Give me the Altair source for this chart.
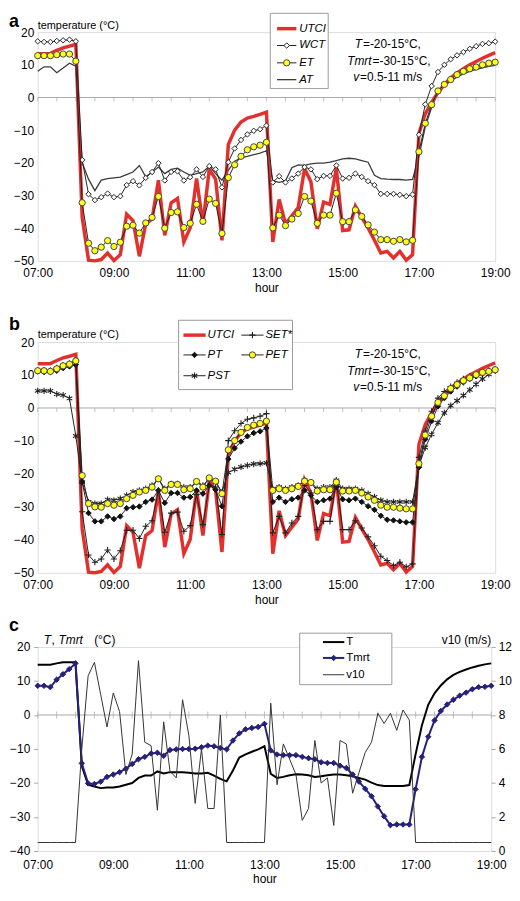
import altair as alt
import pandas as pd

# ---------------- data (10-minute steps, 07:00 .. 19:00) ----------------
STEP_MIN = 10
N = 73
HOURS = [7 + i * STEP_MIN / 60 for i in range(N)]
TICK_HOURS = [7 + k * 0.5 for k in range(25)]

UTCI = [13.4, 13.4, 13.5, 14.4, 15.2, 15.7, 16.3,
        -36.7, -49.8, -50.0, -49.6, -47.6, -49.9, -48.1, -35.7, -37.7, -48.6, -38.7, -37.2, -25.3, -42.2, -32.2,
        -30.9, -44.2, -39.9, -24.8, -38.7, -22.0, -25.0, -43.7,
        -14.4, -10.0, -7.5, -6.3, -5.8, -5.2, -4.5,
        -44.2, -31.2, -38.7, -36.2, -33.7, -21.8, -25.8, -40.2, -32.0, -32.7, -21.6, -40.7, -40.5, -33.2, -36.7,
        -39.9, -43.7, -47.6, -47.1, -49.1, -47.1, -49.8, -48.1,
        -11.0, -5.0, -1.5, 1.5, 4.0, 6.0, 7.5, 8.8, 10.0, 11.0, 12.0, 12.9, 13.7]
WCT = [17.2, 17.0, 17.0, 17.3, 17.5, 17.7, 17.2,
       -19.1, -29.6, -31.4, -30.5, -29.4, -30.5, -30.2, -26.8, -25.6, -26.9, -24.6, -22.8, -20.1, -25.4, -22.8,
       -22.6, -25.4, -24.4, -22.0, -24.3, -21.0, -22.0, -27.5,
       -19.8, -15.6, -13.0, -11.3, -10.2, -9.7, -8.6,
       -26.0, -24.1, -26.0, -24.8, -23.3, -21.3, -22.0, -25.0, -24.0, -24.0, -20.8, -24.8, -24.6, -23.3, -24.3,
       -25.6, -26.8, -29.5, -29.5, -29.5, -29.8, -30.2, -29.7,
       -11.4, -2.1, 3.5, 7.8, 10.0, 11.7, 12.9, 13.9, 14.9, 15.7, 16.4, 16.6, 17.1]
ET = [12.8, 12.8, 12.8, 13.1, 13.3, 13.3, 11.1,
      -32.2, -44.6, -46.9, -45.8, -43.8, -45.6, -44.3, -39.4, -39.1, -41.5, -38.4, -36.7, -30.3, -40.0, -35.2,
      -35.0, -39.8, -38.5, -32.7, -37.9, -31.1, -32.4, -41.6,
      -24.5, -20.6, -18.0, -16.0, -15.1, -14.6, -13.7,
      -39.9, -36.0, -39.2, -37.2, -35.5, -30.3, -31.7, -38.5, -36.0, -36.0, -29.3, -38.0, -38.0, -34.4, -36.4,
      -39.0, -41.2, -43.5, -43.5, -44.0, -43.5, -44.2, -43.7,
      -16.6, -7.9, -2.2, 2.0, 4.0, 5.5, 7.0, 8.0, 8.8, 9.3, 10.0, 10.5, 10.8]
AT = [8.0, 9.4, 9.4, 7.6, 9.0, 10.5, 9.6,
      -20.0, -25.0, -28.5, -25.3, -24.8, -24.6, -24.4, -23.6, -22.8, -20.8, -24.3, -22.8, -21.3, -23.3, -22.0,
      -21.6, -22.8, -23.8, -23.3, -22.8, -21.0, -23.3, -25.3,
      -22.3, -19.5, -18.5, -18.0, -17.5, -17.0, -16.3,
      -25.5, -26.0, -25.5, -21.5, -20.6, -20.8, -20.3, -20.1, -20.1, -19.8, -19.3, -18.8, -18.6, -18.8, -19.3,
      -19.8, -23.8, -24.8, -25.0, -25.1, -25.1, -25.3, -25.1,
      -18.0, -9.0, -3.0, 1.5, 3.5, 5.0, 6.3, 7.2, 8.0, 8.6, 9.1, 9.5, 9.8]

PET = [11.3, 11.3, 11.1, 11.9, 12.8, 13.3, 14.3,
       -20.5, -29.0, -30.0, -30.1, -29.0, -29.5, -29.0, -27.5, -26.5, -25.5, -25.0, -24.0, -21.5, -25.0, -23.2,
       -23.2, -24.8, -24.5, -22.3, -24.0, -21.2, -22.2, -26.0,
       -12.7, -9.9, -7.4, -5.9, -5.2, -4.7, -4.0,
       -25.0, -24.5, -25.0, -24.5, -23.8, -22.2, -22.6, -25.2, -24.8, -24.8, -22.5, -25.2, -25.2, -25.0, -25.8,
       -27.0, -28.0, -29.5, -30.1, -30.1, -30.4, -30.6, -30.6,
       -16.9, -8.2, -2.5, 1.7, 3.7, 5.9, 7.1, 8.3, 9.1, 10.1, 10.8, 11.1, 11.6]
PT = [11.1, 10.9, 10.9, 11.3, 12.1, 12.6, 13.1,
      -22.5, -31.9, -34.4, -34.4, -32.9, -33.7, -32.9, -30.4, -30.1, -29.9, -28.5, -27.8, -25.0, -28.8, -25.8,
      -25.8, -27.2, -27.0, -25.0, -26.0, -23.5, -24.8, -29.8,
      -15.5, -12.2, -10.2, -8.6, -7.6, -7.1, -6.1,
      -28.5, -27.2, -28.5, -27.7, -27.2, -25.0, -26.5, -28.5, -28.0, -27.5, -24.0, -27.7, -28.0, -27.5, -28.5,
      -29.8, -30.9, -32.7, -33.9, -34.1, -34.4, -34.7, -34.7,
      -18.0, -9.5, -4.0, 0.5, 3.0, 5.0, 6.5, 7.8, 8.8, 9.6, 10.3, 10.8, 11.3]
SET = [11.5, 11.5, 11.3, 12.2, 13.0, 13.5, 14.5,
       -31.5, -44.6, -46.8, -45.8, -43.1, -45.8, -43.3, -37.1, -37.1, -39.6, -35.9, -34.2, -25.0, -37.7, -31.9,
       -31.6, -37.4, -35.7, -26.3, -35.4, -23.5, -24.0, -38.4,
       -9.9, -6.9, -4.7, -3.4, -3.0, -2.5, -1.7,
       -37.9, -32.9, -37.9, -34.9, -32.9, -23.5, -25.8, -36.9, -34.4, -34.4, -22.0, -36.9, -36.9, -34.2, -36.4,
       -39.1, -41.8, -45.0, -46.3, -47.8, -46.8, -48.2, -47.3,
       -15.0, -7.0, -1.0, 3.0, 5.0, 6.5, 7.8, 8.8, 9.6, 10.3, 10.9, 11.4, 11.8]
PST = [5.2, 5.2, 5.2, 4.2, 3.9, 2.9, -8.5,
       -22.5, -28.5, -29.0, -29.0, -27.8, -28.0, -27.5, -26.5, -25.5, -25.0, -24.5, -23.5, -21.5, -24.5, -23.0,
       -23.0, -24.0, -24.0, -22.5, -23.5, -21.5, -22.5, -25.5,
       -19.6, -18.6, -17.9, -17.4, -17.0, -16.9, -16.7,
       -24.5, -24.0, -24.5, -24.0, -23.5, -22.0, -22.5, -24.5, -24.0, -24.0, -22.0, -24.5, -24.5, -24.5, -25.0,
       -26.0, -27.0, -28.0, -28.5, -28.5, -28.5, -28.5, -28.5,
       -17.5, -12.0, -8.0, -4.5, -1.5, 0.7, 2.2, 3.8, 5.5, 7.2, 8.8, 10.2, 11.5]

T = [14.8, 14.8, 14.8, 15.2, 15.5, 15.5, 15.5,
     -15.0, -20.5, -21.0, -21.5, -21.3, -21.3, -21.0, -20.5, -20.0, -18.5, -17.8, -17.8, -16.6, -17.2, -16.8,
     -16.8, -16.8, -17.0, -17.2, -17.2, -17.0, -17.8, -18.8,
     -19.5, -16.3, -12.5, -11.6, -10.8, -10.1, -9.2,
     -17.3, -18.5, -18.2, -17.7, -17.4, -17.5, -17.7, -18.2, -18.0, -17.7, -17.5, -17.5, -17.7, -18.0, -18.5,
     -19.0, -19.9, -20.6, -20.9, -20.9, -20.9, -20.9, -20.6,
     -11.5, -3.0, 3.0, 6.4, 8.7, 10.5, 11.8, 12.7, 13.4, 14.0, 14.5, 14.9, 15.2]
TMRT = [8.6, 8.6, 8.2, 10.4, 12.0, 13.5, 15.2,
        -14.2, -20.1, -20.3, -19.6, -18.2, -17.5, -16.8, -15.8, -14.4, -13.0, -12.3, -11.3, -11.1, -12.0, -10.3,
        -10.1, -10.0, -10.0, -9.9, -9.5, -9.0, -9.2, -9.7,
        -10.1, -7.5, -5.4, -4.2, -3.8, -3.5, -2.6,
        -10.4, -11.6, -11.8, -11.8, -11.8, -12.3, -12.7, -13.0, -13.9, -14.1, -14.1, -14.9, -15.6, -17.5, -19.6,
        -21.7, -23.9, -26.9, -29.8, -32.4, -32.2, -32.2, -32.2,
        -21.8, -12.3, -6.4, -1.6, 1.2, 3.1, 4.5, 5.7, 6.6, 7.6, 8.2, 8.3, 8.6]
V10 = [0.5, 0.5, 0.5, 0.5, 0.5, 0.5, 0.5,
       6.0, 10.3, 11.1, 9.2, 7.3, 9.3, 8.2, 4.5, 5.7, 11.2, 6.4, 6.2, 2.4, 7.6, 4.7,
       4.3, 8.9, 6.8, 2.8, 6.0, 2.5, 2.5, 8.0,
       0.5, 0.5, 0.5, 0.5, 0.5, 0.5, 0.5,
       8.7, 3.9, 6.3, 5.4, 4.5, 1.8, 2.5, 6.5, 4.0, 4.3, 1.5, 6.5, 6.3, 3.4, 4.6,
       5.8, 6.4, 8.1, 7.5, 8.1, 7.1, 8.3, 7.7,
       0.5, 0.5, 0.5, 0.5, 0.5, 0.5, 0.5, 0.5, 0.5, 0.5, 0.5, 0.5, 0.5]

X_LABEL_HOURS = [7, 9, 11, 13, 15, 17, 19]
Y_AB_TICKS = [-50, -40, -30, -20, -10, 0, 10, 20]
Y_C_TICKS = [-40, -30, -20, -10, 0, 10, 20]
V_TICKS = [0, 2, 4, 6, 8, 10, 12]

df_a = pd.DataFrame({"t": HOURS, "UTCI": UTCI, "WCT": WCT, "ET": ET, "AT": AT})
df_b = pd.DataFrame({"t": HOURS, "UTCI": UTCI, "SET": SET, "PT": PT, "PET": PET, "PST": PST})
df_c = pd.DataFrame({"t": HOURS, "T": T, "Tmrt": TMRT, "v10": V10})
df_ticks = pd.DataFrame({"t": TICK_HOURS})
ONE = pd.DataFrame({"k": [0]})

# ---------------- styling ----------------
FONT = "Liberation Sans"
W_AB, W_C = 462, 458
H_A, H_B, H_C = 231, 233, 206
RED = "#e2312d"
YEL = "#ffff1a"
NAVY = "#25207a"
GRID = "#a8a8a8"
PLUS = "M-1,0L1,0M0,-1L0,1"
STAR = "M0,-1L0,1M-0.9,-0.55L0.9,0.55M-0.9,0.55L0.9,-0.55"
XSCALE = alt.Scale(domain=[7, 19], nice=False, zero=False)


def xenc(lp=7, tp=4):
    return alt.X("t:Q", scale=XSCALE,
                 axis=alt.Axis(values=X_LABEL_HOURS,
                               labelExpr="(datum.value < 10 ? '0' : '') + datum.value + ':00'",
                               title="hour", ticks=False, domain=False, grid=False, labelFlush=False,
                               labelPadding=lp, titlePadding=tp, labelFont=FONT, labelFontSize=12,
                               labelColor="black", titleFont=FONT, titleFontSize=12,
                               titleFontWeight="normal", titleColor="black"))


def yaxis(values, ticks=False):
    return alt.Axis(values=values, title=None, ticks=ticks, tickSize=4, tickColor=GRID,
                    domain=False, grid=False, labelFont=FONT, labelFontSize=12,
                    labelColor="black", labelPadding=4)


def yenc(col, domain, values, ticks=False):
    return alt.Y(f"{col}:Q", scale=alt.Scale(domain=domain, nice=False, zero=False),
                 axis=yaxis(values, ticks))


def line(df, col, color, width, domain, values, ticks=False, lp=7, tp=4):
    return alt.Chart(df).mark_line(color=color, strokeWidth=width).encode(
        x=xenc(lp, tp), y=yenc(col, domain, values, ticks))


def pts(df, col, shape, fill, stroke, size, domain, values, filled=True, sw=1.0, ticks=False, lp=7, tp=4):
    kw = dict(shape=shape, size=size, strokeWidth=sw, opacity=1, stroke=stroke)
    if filled:
        kw.update(filled=True, fill=fill)
    else:
        kw.update(filled=False)
    return alt.Chart(df).mark_point(**kw).encode(x=xenc(lp, tp), y=yenc(col, domain, values, ticks))


def zero_line(domain, values, tick_size, tick_offset, ticks=False, lp=7, tp=4):
    ysc = alt.Scale(domain=domain, nice=False, zero=False)
    rule = alt.Chart(ONE).mark_rule(color=GRID, strokeWidth=1).encode(
        y=alt.Y(datum=0, scale=ysc, axis=yaxis(values, ticks)))
    tk = alt.Chart(df_ticks).mark_tick(orient="vertical", size=tick_size, thickness=1, color=GRID,
                                        yOffset=tick_offset).encode(
        x=xenc(lp, tp), y=alt.Y(datum=0, scale=ysc, axis=yaxis(values, ticks)))
    return [rule, tk]


def txt(s, x, y, size=12, style="normal", align="left", weight="normal", baseline="middle"):
    return alt.Chart(ONE).mark_text(text=s, align=align, baseline=baseline, font=FONT, fontSize=size,
                                    fontStyle=style, fontWeight=weight, color="black").encode(
        x=alt.value(x), y=alt.value(y))


def box(x1, x2, y1, y2):
    return alt.Chart(ONE).mark_rect(fill="white", stroke="#9a9a9a", strokeWidth=1).encode(
        x=alt.value(x1), x2=alt.value(x2), y=alt.value(y1), y2=alt.value(y2))


def seg(x1, x2, y, color, width):
    return alt.Chart(ONE).mark_rule(color=color, strokeWidth=width).encode(
        x=alt.value(x1), x2=alt.value(x2), y=alt.value(y))


def sym(x, y, shape, fill, stroke, size, filled=True, sw=1.0):
    kw = dict(shape=shape, size=size, strokeWidth=sw, opacity=1, stroke=stroke)
    if filled:
        kw.update(filled=True, fill=fill)
    else:
        kw.update(filled=False)
    return alt.Chart(ONE).mark_point(**kw).encode(x=alt.value(x), y=alt.value(y))


def annotation(sx):
    out = []
    rows = [("T", "=-20-15°C,", 336, 12), ("Tmrt", "=-30-15°C,", 346, 29), ("v", "=0.5-11 m/s", 333, 45)]
    for it, rest, split, yy in rows:
        out.append(txt(it, split * sx, yy, style="italic", align="right"))
        out.append(txt(rest, split * sx + 1, yy, align="left"))
    return out


DOM_AB = [-50, 20]
DOM_C = [-40, 20]

# ---------------- panel a ----------------
sa = W_AB / 474
a_layers = zero_line(DOM_AB, Y_AB_TICKS, 4, 2) + [
    line(df_a, "AT", "#3a3a3a", 1.3, DOM_AB, Y_AB_TICKS),
    line(df_a, "UTCI", RED, 3.5, DOM_AB, Y_AB_TICKS),
    line(df_a, "WCT", "#222222", 1, DOM_AB, Y_AB_TICKS),
    pts(df_a, "WCT", "diamond", "white", "#222222", 30, DOM_AB, Y_AB_TICKS),
    line(df_a, "ET", "#222222", 1, DOM_AB, Y_AB_TICKS),
    pts(df_a, "ET", "circle", YEL, "#444444", 40, DOM_AB, Y_AB_TICKS),
    txt("a", -29, -19, size=18, weight="bold", baseline="top"),
    txt("temperature (°C)", 0, -6, size=11),
    box(241 * sa, 301 * sa, -19, 57),
]
leg_rows_a = [-3.5, 13.5, 31, 48]
lx1, lx2, ltx = 248 * sa, 268 * sa, 271 * sa
a_layers += [
    seg(lx1, lx2, leg_rows_a[0], RED, 3.5),
    txt("UTCI", ltx, leg_rows_a[0], size=11.5, style="italic"),
    seg(lx1, lx2, leg_rows_a[1], "#222222", 1),
    sym((lx1 + lx2) / 2, leg_rows_a[1], "diamond", "white", "#222222", 30),
    txt("WCT", ltx, leg_rows_a[1], size=11.5, style="italic"),
    seg(lx1, lx2, leg_rows_a[2], "#222222", 1),
    sym((lx1 + lx2) / 2, leg_rows_a[2], "circle", YEL, "#444444", 40),
    txt("ET", ltx, leg_rows_a[2], size=11.5, style="italic"),
    seg(lx1, lx2, leg_rows_a[3], "#3a3a3a", 1.3),
    txt("AT", ltx, leg_rows_a[3], size=11.5, style="italic"),
] + annotation(sa)
panel_a = alt.layer(*a_layers).properties(width=W_AB, height=H_A)

# ---------------- panel b ----------------
b_layers = zero_line(DOM_AB, Y_AB_TICKS, 4, 2) + [
    line(df_b, "UTCI", RED, 3.5, DOM_AB, Y_AB_TICKS),
    line(df_b, "PST", "#222222", 1, DOM_AB, Y_AB_TICKS),
    pts(df_b, "PST", STAR, None, "#222222", 40, DOM_AB, Y_AB_TICKS, filled=False, sw=1.1),
    line(df_b, "PT", "#222222", 1, DOM_AB, Y_AB_TICKS),
    pts(df_b, "PT", "diamond", "#111111", "#111111", 30, DOM_AB, Y_AB_TICKS),
    line(df_b, "SET", "#222222", 1, DOM_AB, Y_AB_TICKS),
    pts(df_b, "SET", PLUS, None, "#222222", 40, DOM_AB, Y_AB_TICKS, filled=False, sw=1.1),
    line(df_b, "PET", "#222222", 1, DOM_AB, Y_AB_TICKS),
    pts(df_b, "PET", "circle", YEL, "#444444", 40, DOM_AB, Y_AB_TICKS),
    txt("b", -29, -26, size=18, weight="bold", baseline="top"),
    txt("temperature (°C)", 0, -7, size=11),
    box(146 * sa, 264 * sa, -22, 48),
]
rb = [-7, 13, 34]
c1a, c1b, c1t = 151 * sa, 174 * sa, 176 * sa
c2a, c2b, c2t = 211 * sa, 234 * sa, 236 * sa
b_layers += [
    seg(c1a, c1b, rb[0], RED, 3.5),
    txt("UTCI", c1t, rb[0], size=11.5, style="italic"),
    seg(c2a, c2b, rb[0], "#222222", 1),
    sym((c2a + c2b) / 2, rb[0], PLUS, None, "#222222", 40, filled=False, sw=1.1),
    txt("SET*", c2t, rb[0], size=11.5, style="italic"),
    seg(c1a, c1b, rb[1], "#222222", 1),
    sym((c1a + c1b) / 2, rb[1], "diamond", "#111111", "#111111", 30),
    txt("PT", c1t, rb[1], size=11.5, style="italic"),
    seg(c2a, c2b, rb[1], "#222222", 1),
    sym((c2a + c2b) / 2, rb[1], "circle", YEL, "#444444", 40),
    txt("PET", c2t, rb[1], size=11.5, style="italic"),
    seg(c1a, c1b, rb[2], "#222222", 1),
    sym((c1a + c1b) / 2, rb[2], STAR, None, "#222222", 40, filled=False, sw=1.1),
    txt("PST", c1t, rb[2], size=11.5, style="italic"),
] + annotation(sa)
panel_b = alt.layer(*b_layers).properties(width=W_AB, height=H_B)

# ---------------- panel c ----------------
LPC, TPC = 9, 3
sc = W_C / 467.4
left_c = alt.layer(
    *zero_line(DOM_C, Y_C_TICKS, 7, 0, ticks=True, lp=LPC, tp=TPC),
    line(df_c, "T", "#000000", 2, DOM_C, Y_C_TICKS, ticks=True, lp=LPC, tp=TPC),
    line(df_c, "Tmrt", NAVY, 2, DOM_C, Y_C_TICKS, ticks=True, lp=LPC, tp=TPC),
    pts(df_c, "Tmrt", "diamond", NAVY, NAVY, 30, DOM_C, Y_C_TICKS, ticks=True, lp=LPC, tp=TPC),
)
right_c = alt.Chart(df_c).mark_line(color="#333333", strokeWidth=1).encode(
    x=xenc(LPC, TPC),
    y=alt.Y("v10:Q", scale=alt.Scale(domain=[0, 12], nice=False, zero=False),
            axis=alt.Axis(orient="right", values=V_TICKS, title=None, ticks=True, tickSize=4,
                          tickColor=GRID, domain=False, grid=False, labelFont=FONT, labelFontSize=12,
                          labelColor="black", labelPadding=3)))
rc = [-5, 11, 28]
d1, d2, dt = 294 * sc, 316 * sc, 318 * sc
c_extra = [
    txt("c", -29, -30, size=18, weight="bold", baseline="top"),
    txt("T", 6, -7, size=12, style="italic"),
    txt(",", 14, -7, size=12),
    txt("Tmrt", 21, -7, size=12, style="italic"),
    txt("(°C)", 57, -7, size=12),
    txt("v10 (m/s)", W_C, -7, size=12, align="right"),
    box(270 * sc, 365 * sc, -14, 38),
    seg(d1, d2, rc[0], "#000000", 2),
    txt("T", dt, rc[0], size=11.5),
    seg(d1, d2, rc[1], NAVY, 2),
    sym((d1 + d2) / 2, rc[1], "diamond", NAVY, NAVY, 30),
    txt("Tmrt", dt, rc[1], size=11.5),
    seg(d1, d2, rc[2], "#333333", 1),
    txt("v10", dt, rc[2], size=11.5),
]
panel_c = alt.layer(left_c, right_c, *c_extra).resolve_scale(y="independent").properties(
    width=W_C, height=H_C)

top = alt.vconcat(panel_a, panel_b, spacing=21)
chart = alt.vconcat(top, panel_c, spacing=10).properties(
    padding={"left": 0, "top": 0, "right": 0, "bottom": 0}
).configure_view(stroke="#a8a8a8", strokeWidth=1).configure(font=FONT)

chart.save("out.html", embed_options={"renderer": "svg", "actions": False})
